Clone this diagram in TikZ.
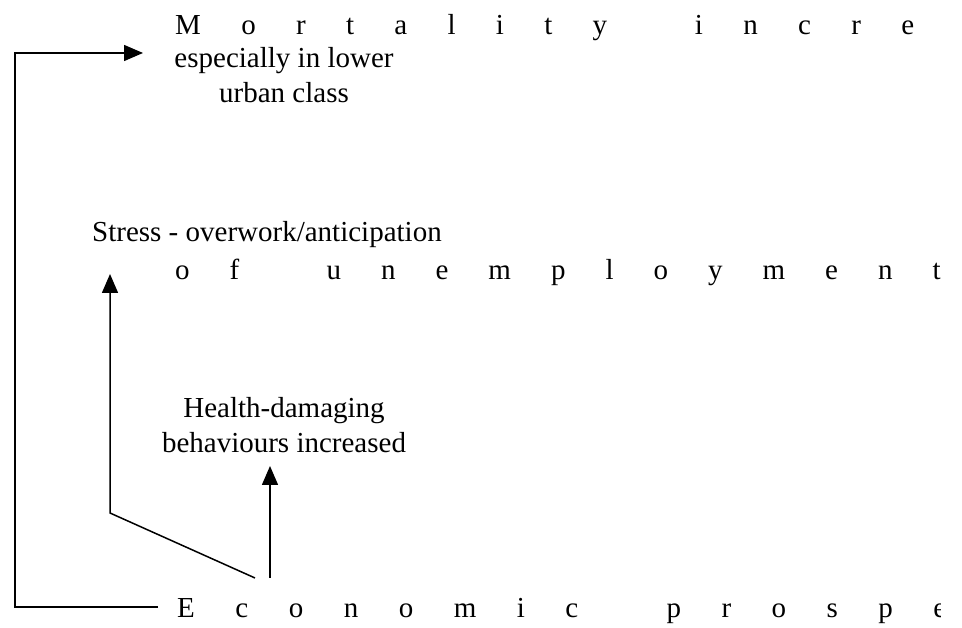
\documentclass[tikz,border=0pt]{standalone}
\usepackage{fontspec}
\setmainfont{Liberation Serif}
\usetikzlibrary{arrows.meta,positioning}
\makeatletter
\newcommand\spreadout[2][40.3pt]{\@tfor\spr@ch:=#2\do{\spr@ch\hspace{#1}}}
\makeatother

\begin{document}
\begin{tikzpicture}[x=1pt, y=1pt,
  font=\fontsize{29}{35}\selectfont,
  lbl/.style={inner sep=0pt, align=center},
  wide/.style={inner sep=0pt, anchor=base west},
  arr/.style={-{Triangle[length=19pt, width=16pt]}, line width=1.5pt}]
\useasboundingbox (0,0) rectangle (962,628);
\begin{scope}
\clip (0,0) rectangle (940,628);
\node[wide] (mort) at (175,593) {\spreadout{Mortality~incre}};
\node[wide] (unemp) at (175,348) {\spreadout[40pt]{of~unemployment}};
\node[wide] (econ) at (177,10) {\spreadout[40.5pt]{Economic~prospe}};
\end{scope}
\node[lbl, anchor=base] (mortsub) at (284,525) {especially in lower\\ urban class};
\node[lbl, anchor=base west] (stress) at (92,386) {Stress - overwork/anticipation};
\node[lbl, anchor=base] (health) at (284,175) {Health-damaging\\ behaviours increased};
% end points of the connectors
\coordinate (econ-out) at ([shift={(-19,11)}]econ.base west);
\coordinate (econ-diag) at ([shift={(78,40)}]econ.base west);
\coordinate (econ-up) at ([shift={(93,40)}]econ.base west);
\coordinate (mort-in) at ([shift={(-32,-18)}]mort.base west);
\coordinate (stress-in) at ([shift={(18,-32)}]stress.base west);
\coordinate (health-in) at ([shift={(-14,-13)}]health.base);
\draw[arr] (econ-out) -| ([xshift=-128pt]mort-in) -- (mort-in);
\draw[arr] (econ-diag) -- (stress-in |- 0,115) -- (stress-in);
\draw[arr] (econ-up) -- (health-in);
\end{tikzpicture}
\end{document}
